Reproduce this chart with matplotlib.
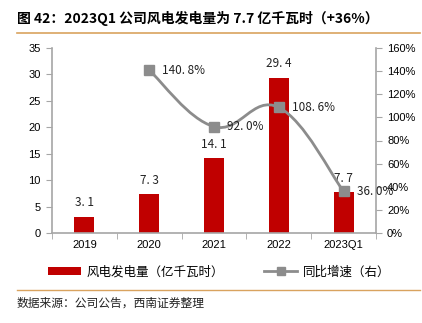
"""
Wind power generation (bar) with year-over-year growth (smoothed line, right axis).
"""

import matplotlib
matplotlib.use("Agg")
import matplotlib.pyplot as plt
import numpy as np
from matplotlib.lines import Line2D
from matplotlib.patches import Patch, PathPatch
from matplotlib.path import Path
from matplotlib.ticker import FuncFormatter, MultipleLocator

plt.rcParams["font.family"] = ["Noto Sans CJK SC", "DejaVu Sans"]

categories = ["2019", "2020", "2021", "2022", "2023Q1"]
generation = [3.1, 7.3, 14.1, 29.4, 7.7]
growth = [None, 140.8, 92.0, 108.6, 36.0]

BAR_RED = "#c00000"
LINE_GREY = "#8c8c8c"
AXIS_GREY = "#a6a6a6"
RULE_ORANGE = "#d9a35f"
LATIN = ["Liberation Sans", "DejaVu Sans"]


def smooth_path(xs, ys, tension=0.2):
    # Catmull-Rom style cubic Bezier through the given points
    pts = np.column_stack([xs, ys])
    verts = [pts[0]]
    codes = [Path.MOVETO]
    n = len(pts)
    for i in range(n - 1):
        p0 = pts[i - 1] if i > 0 else pts[i]
        p1 = pts[i]
        p2 = pts[i + 1]
        p3 = pts[i + 2] if i + 2 < n else pts[i + 1]
        c1 = p1 + (p2 - p0) * tension
        c2 = p2 - (p3 - p1) * tension
        verts += [c1, c2, p2]
        codes += [Path.CURVE4] * 3
    return Path(verts, codes)


fig = plt.figure(figsize=(4.22, 3.23), dpi=100)
ax = fig.add_axes([52 / 422, 1 - 233 / 323, 324 / 422, 185 / 323])
ax2 = ax.twinx()

x = np.arange(len(categories))
ax.bar(x, generation, width=0.31, color=BAR_RED, zorder=2)
for xi, v in zip(x, generation):
    ax.text(xi, v + 1.4, f"{v:.1f}".replace(".", ". "), ha="center", va="bottom",
            fontsize=8.5, color="#222222")

ax.set_xlim(-0.5, len(categories) - 0.5)
ax.set_ylim(0, 35)
ax.yaxis.set_major_locator(MultipleLocator(5))
ax.set_xticks(x)
ax.set_xticklabels(categories, fontsize=8, family=LATIN)
ax.set_xticks(np.arange(-0.5, len(categories)), minor=True)
ax.tick_params(axis="x", which="major", length=0, pad=5)
ax.tick_params(axis="x", which="minor", length=4, color=AXIS_GREY)
ax.tick_params(axis="y", length=4, color=AXIS_GREY, labelsize=8, pad=4)
for lab in ax.get_yticklabels():
    lab.set_family(LATIN)

# right axis: growth rate
gx = [xi for xi, g in zip(x, growth) if g is not None]
gy = [g for g in growth if g is not None]
ax2.set_ylim(0, 160)
ax2.yaxis.set_major_locator(MultipleLocator(20))
ax2.yaxis.set_major_formatter(FuncFormatter(lambda v, _: f"{v:.0f}%"))
ax2.tick_params(axis="y", length=4, color=AXIS_GREY, labelsize=8, pad=4)
for lab in ax2.get_yticklabels():
    lab.set_family(LATIN)

ax2.add_patch(PathPatch(smooth_path(gx, gy), facecolor="none",
                        edgecolor=LINE_GREY, linewidth=2, zorder=3))
ax2.plot(gx, gy, linestyle="none", marker="s", markersize=7,
         color=LINE_GREY, zorder=4)
for xi, g in zip(gx, gy):
    ax2.text(xi + 0.2, g, f"{g:.1f}%".replace(".", ". "), ha="left",
             va="center", fontsize=8.5, color="#222222", zorder=5)

for a in (ax, ax2):
    a.spines["top"].set_visible(False)
    for side in ("left", "right", "bottom"):
        a.spines[side].set_color(AXIS_GREY)
        a.spines[side].set_linewidth(1.2)
ax.spines["right"].set_visible(False)
ax2.spines["left"].set_visible(False)
ax2.spines["bottom"].set_visible(False)

# title and rules
fig.text(17 / 422, 1 - 18 / 323, "图 42：2023Q1 公司风电发电量为 7.7 亿千瓦时（+36%）",
         fontsize=10, fontweight="bold", ha="left", va="center")
fig.add_artist(Line2D([17 / 422, 420 / 422], [1 - 33 / 323] * 2,
                      color=RULE_ORANGE, linewidth=1.2))
fig.add_artist(Line2D([17 / 422, 420 / 422], [1 - 290 / 323] * 2,
                      color=RULE_ORANGE, linewidth=1.0))

handles = [
    Patch(facecolor=BAR_RED, edgecolor="none"),
    Line2D([], [], color=LINE_GREY, linewidth=2, marker="s", markersize=6),
]
fig.legend(handles, ["风电发电量（亿千瓦时）", "同比增速（右）"],
           loc="center", bbox_to_anchor=(0.52, 1 - 272 / 323), ncol=2,
           frameon=False, fontsize=9, handlelength=2.6, handleheight=0.6,
           columnspacing=3.2, handletextpad=0.5)

fig.text(17 / 422, 1 - 303 / 323, "数据来源：公司公告，西南证券整理",
         fontsize=8.5, ha="left", va="center", color="#222222")

fig.savefig("out.png", dpi=100)
plt.close(fig)
